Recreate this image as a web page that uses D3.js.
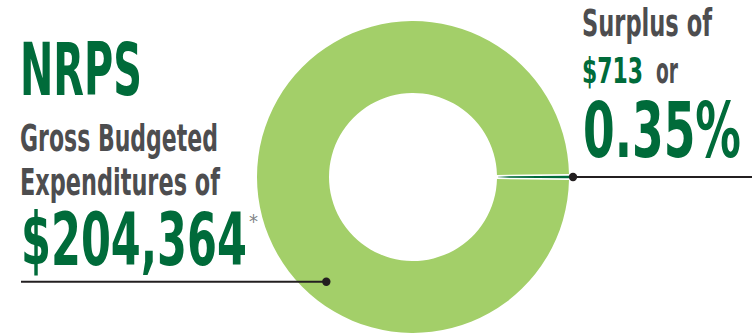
<!DOCTYPE html>
<html>
<head>
<meta charset="utf-8">
<script src="https://cdn.jsdelivr.net/npm/d3@7"></script>
<style>
  html, body { margin: 0; padding: 0; background: #fff; }
  svg { display: block; }
</style>
</head>
<body>
<svg id="chart" width="752" height="335"></svg>
<script>
// ---- data ----
const categories = ["Surplus", "Gross Budgeted Expenditures"];
const values = [713, 204364];
const sliceColors = ["#006b3a", "#a3cf69"];

const title = "NRPS";
const leftLabelLines = ["Gross Budgeted", "Expenditures of"];
const leftValue = "$204,364";
const leftNote = "*";
const rightLabel = "Surplus of";
const rightValue = "$713";
const rightConnector = "or";
const rightPct = "0.35%";

// ---- layout ----
const svg = d3.select("#chart");
const W = 752, H = 335;
const cx = 413, cy = 177, rOuter = 156, rInner = 84;
const GREEN = "#006b3a", GRAY = "#4d4d4f", INK = "#231f20";
const FONT = "'DejaVu Sans Condensed', 'DejaVu Sans', sans-serif";

const total = d3.sum(values);
const surplusAngle = 2 * Math.PI * values[0] / total;
const start = Math.PI / 2 - surplusAngle / 2;

const pie = d3.pie().sort(null).value(d => d).startAngle(start).endAngle(start + 2 * Math.PI);
const arcs = pie(values);

const defs = svg.append("defs");
const grad = defs.append("linearGradient")
  .attr("id", "surplusGrad")
  .attr("gradientUnits", "userSpaceOnUse")
  .attr("x1", rInner).attr("y1", 0)
  .attr("x2", rInner + 12).attr("y2", 0);
grad.append("stop").attr("offset", 0).attr("stop-color", "#dfe9e2");
grad.append("stop").attr("offset", 1).attr("stop-color", sliceColors[0]);

const g = svg.append("g").attr("transform", `translate(${cx},${cy})`);

// big slice, padded so a white gap surrounds the surplus slice
g.append("path")
  .attr("d", d3.arc().innerRadius(rInner).outerRadius(rOuter).padAngle(0.0135)(arcs[1]))
  .attr("fill", sliceColors[1]);

// surplus slice (thin)
const mid = (arcs[0].startAngle + arcs[0].endAngle) / 2;
const half = (arcs[0].endAngle - arcs[0].startAngle) / 2;
g.append("path")
  .attr("d", d3.arc().innerRadius(rInner + 1).outerRadius(rOuter)
    .startAngle(mid - half * 0.8).endAngle(mid + half * 0.8)())
  .attr("fill", "url(#surplusGrad)");

// ---- leader lines ----
const lines = svg.append("g");
const rDotX = cx + rOuter + 4, rDotY = cy;
lines.append("line").attr("x1", rDotX).attr("y1", rDotY).attr("x2", W).attr("y2", rDotY)
  .attr("stroke", INK).attr("stroke-width", 2);
lines.append("circle").attr("cx", rDotX).attr("cy", rDotY).attr("r", 4.2).attr("fill", INK);

const la = 219.6 * Math.PI / 180, lr = 136;
const lDotX = cx + lr * Math.sin(la), lDotY = cy - lr * Math.cos(la);
lines.append("line").attr("x1", 21).attr("y1", lDotY).attr("x2", lDotX).attr("y2", lDotY)
  .attr("stroke", INK).attr("stroke-width", 2);
lines.append("circle").attr("cx", lDotX).attr("cy", lDotY).attr("r", 4.2).attr("fill", INK);

// ---- texts (condensed horizontally to the reference widths) ----
function txt(s, x, y, size, color, width, weight) {
  const t = svg.append("text")
    .attr("font-family", FONT).attr("font-weight", weight || "bold")
    .attr("font-size", size).attr("fill", color)
    .text(s);
  const natural = t.node().getComputedTextLength();
  const sx = width ? width / natural : 1;
  t.attr("transform", `translate(${x},${y}) scale(${sx},1)`);
  return t;
}

txt(title, 20, 95, 73, GREEN, 122);
txt(leftLabelLines[0], 20, 151, 37, GRAY, 198);
txt(leftLabelLines[1], 20, 195, 37, GRAY, 200);
txt(leftValue, 21, 265, 73, GREEN, 226);
txt(leftNote, 249, 228, 19, "#808285", 9, "normal");

txt(rightLabel, 582, 36, 37, GRAY, 130);
txt(rightValue, 582, 83, 35, GREEN, 61);
txt(rightConnector, 656, 83, 35, GRAY, 22);
txt(rightPct, 583, 157, 76, GREEN, 158);
</script>
</body>
</html>
